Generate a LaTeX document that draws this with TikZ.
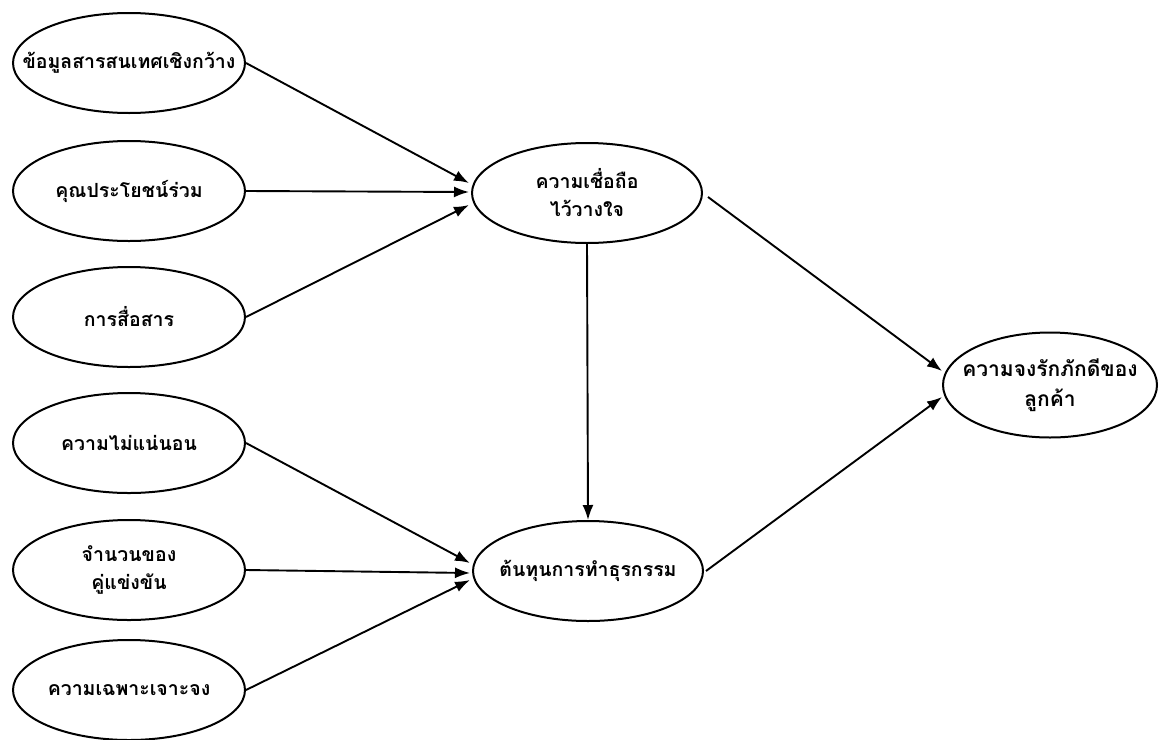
\documentclass[tikz,border=0pt]{standalone}
\usepackage{fontspec}
\newfontfamily\thaifont[Script=Thai]{Loma}
\usetikzlibrary{shapes.geometric,arrows.meta,calc}
\newcommand{\zc}[1]{\makebox[0pt]{#1}}
\begin{document}
\begin{tikzpicture}[x=1pt,y=-1pt,
  box/.style={ellipse,draw,line width=2pt,inner sep=0pt,align=center,
    font=\thaifont\bfseries\fontsize{19.5}{28}\selectfont},
  lbox/.style={box,minimum width=232pt,minimum height=100pt},
  mbox/.style={box,minimum width=230pt,minimum height=100pt},
  rbox/.style={box,minimum width=214pt,minimum height=105pt,
    font=\thaifont\bfseries\fontsize{21}{30}\selectfont},
  link/.style={line width=1.9pt,-{Latex[length=15pt,width=11pt]}}]
\useasboundingbox (0,0) rectangle (1161,739);
\node[lbox] (l1) at (129,63) {\zc{ข้อมูลสารสนเทศเชิงกว้าง}};
\node[lbox] (l2) at (129,191) {\zc{คุณประโยชน์ร่วม}};
\node[lbox] (l3) at (129,317) {\zc{การสื่อสาร}};
\node[lbox] (l4) at (129,443) {\zc{ความไม่แน่นอน}};
\node[lbox] (l5) at (129,570) {\zc{จำนวนของ}\\\zc{คู่แข่งขัน}};
\node[lbox] (l6) at (129,690) {\zc{ความเฉพาะเจาะจง}};
\node[mbox] (m1) at (587,193) {\zc{ความเชื่อถือ}\\\zc{ไว้วางใจ}};
\node[mbox] (m2) at (588,571) {\zc{ต้นทุนการทำธุรกรรม}};
\node[rbox] (r) at (1050,385) {\zc{ความจงรักภักดีของ}\\\zc{ลูกค้า}};
\draw[link] (l1.east) -- ($(m1.west)+(-2,-10)$);
\draw[link] (l2.east) -- ($(m1.west)+(-2,-1)$);
\draw[link] (l3.east) -- ($(m1.west)+(-2,12)$);
\draw[link] (l4.east) -- ($(m2.west)+(-2,-8)$);
\draw[link] (l5.east) -- ($(m2.west)+(-2,2)$);
\draw[link] (l6.east) -- ($(m2.west)+(-2,9)$);
\draw[link] (m1.south) -- (m2.north);
\draw[link] ($(m1.east)+(5,4)$) -- ($(r.west)+(0,-14)$);
\draw[link] ($(m2.east)+(2,0)$) -- ($(r.west)+(0,12)$);
\end{tikzpicture}
\end{document}
